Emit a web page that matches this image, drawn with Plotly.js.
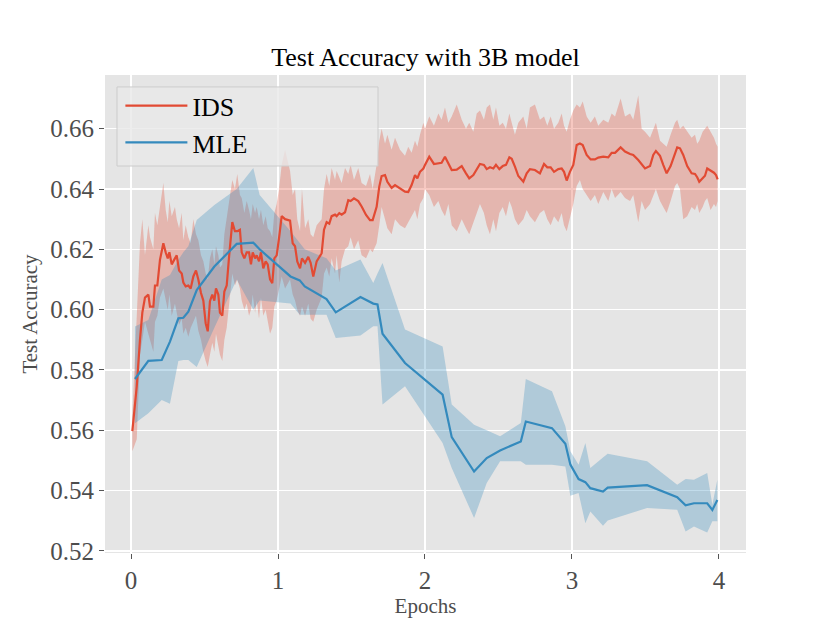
<!DOCTYPE html>
<html>
<head>
<meta charset="utf-8">
<script src="https://cdn.plot.ly/plotly-3.0.1.min.js"></script>
<style>
  body { margin: 0; background: #ffffff; }
  #accPlot { width: 830px; height: 623px; }
</style>
</head>
<body>
<div id="accPlot"></div>
<script>
// IDS run: epoch, mean accuracy and the shaded band
var idsX = [0.009,0.039,0.061,0.077,0.095,0.118,0.129,0.152,0.163,0.179,0.197,0.220,0.236,0.250,0.261,0.277,0.299,0.311,0.327,0.345,
  0.356,0.372,0.390,0.406,0.424,0.442,0.458,0.476,0.492,0.508,0.522,0.537,0.553,0.567,0.578,0.594,0.605,0.621,0.635,0.651,
  0.667,0.689,0.707,0.723,0.741,0.753,0.771,0.787,0.803,0.816,0.828,0.844,0.855,0.871,0.884,0.900,0.916,0.930,0.946,0.961,
  0.975,0.991,1.007,1.025,1.048,1.082,1.100,1.116,1.131,1.150,1.163,1.184,1.206,1.222,1.240,1.263,1.297,1.313,1.331,1.349,
  1.365,1.388,1.399,1.417,1.433,1.456,1.478,1.494,1.517,1.546,1.569,1.599,1.626,1.644,1.671,1.689,1.705,1.728,1.744,1.773,
  1.796,1.830,1.864,1.886,1.909,1.932,1.948,1.966,1.989,2.000,2.029,2.061,2.091,2.113,2.136,2.159,2.182,2.216,2.250,2.279,
  2.301,2.329,2.352,2.374,2.401,2.420,2.442,2.465,2.483,2.506,2.529,2.551,2.574,2.590,2.612,2.635,2.669,2.692,2.714,2.748,
  2.782,2.810,2.832,2.855,2.878,2.907,2.930,2.946,2.964,2.986,3.009,3.032,3.054,3.073,3.100,3.127,3.156,3.179,3.213,3.247,
  3.270,3.293,3.331,3.361,3.395,3.417,3.451,3.474,3.497,3.531,3.553,3.571,3.599,3.621,3.644,3.671,3.701,3.716,3.735,3.757,
  3.784,3.814,3.837,3.852,3.866,3.889,3.905,3.920,3.943,3.966,3.980,3.991];
var idsMean = [0.5597,0.5745,0.590,0.599,0.604,0.605,0.601,0.601,0.608,0.608,0.6165,0.622,0.619,0.617,0.619,0.615,0.617,0.618,0.613,0.612,
  0.609,0.6077,0.608,0.607,0.611,0.613,0.610,0.6055,0.603,0.5955,0.5928,0.6028,0.605,0.603,0.607,0.605,0.599,0.598,0.606,0.608,
  0.6175,0.629,0.626,0.626,0.6265,0.619,0.617,0.619,0.619,0.615,0.619,0.617,0.618,0.616,0.619,0.6137,0.616,0.615,0.610,0.6088,
  0.617,0.618,0.6237,0.631,0.630,0.6295,0.622,0.621,0.616,0.6137,0.617,0.6155,0.6175,0.6155,0.611,0.616,0.6187,0.6265,0.629,0.6285,
  0.631,0.6315,0.631,0.632,0.6315,0.6323,0.6363,0.636,0.6369,0.636,0.6342,0.6314,0.6297,0.6297,0.6341,0.6408,0.6443,0.6446,0.6424,0.6404,
  0.6413,0.6402,0.6391,0.639,0.6413,0.6446,0.6435,0.6457,0.6468,0.648,0.6507,0.6483,0.6485,0.6487,0.6507,0.6487,0.6463,0.6464,0.6476,0.6452,
  0.6435,0.6446,0.6463,0.6483,0.648,0.6466,0.6472,0.6468,0.648,0.6466,0.6476,0.648,0.6505,0.650,0.6474,0.6443,0.6424,0.6452,0.6466,0.6463,
  0.6452,0.6483,0.6472,0.6472,0.6457,0.6466,0.6468,0.6457,0.6428,0.6457,0.648,0.6546,0.6551,0.6546,0.6513,0.6498,0.6498,0.6504,0.6507,0.6505,
  0.652,0.652,0.6538,0.6524,0.6516,0.6513,0.6496,0.6483,0.6468,0.6476,0.6513,0.6526,0.651,0.648,0.6452,0.6476,0.6518,0.6538,0.6535,0.6513,
  0.6476,0.6452,0.645,0.6439,0.6424,0.6435,0.6444,0.6468,0.6461,0.6454,0.6446,0.6432];
var idsUpper = [0.565,0.595,0.622,0.630,0.618,0.628,0.624,0.620,0.632,0.628,0.634,0.642,0.633,0.629,0.636,0.631,0.634,0.630,0.627,0.632,
  0.623,0.628,0.624,0.622,0.630,0.625,0.623,0.618,0.616,0.612,0.610,0.617,0.620,0.615,0.621,0.618,0.614,0.615,0.625,0.630,
  0.636,0.643,0.640,0.645,0.638,0.637,0.632,0.636,0.633,0.630,0.635,0.632,0.634,0.630,0.633,0.628,0.631,0.627,0.626,0.624,
  0.632,0.635,0.640,0.648,0.653,0.646,0.638,0.640,0.630,0.626,0.640,0.627,0.630,0.625,0.624,0.628,0.630,0.640,0.645,0.641,
  0.647,0.643,0.646,0.644,0.642,0.647,0.645,0.648,0.643,0.647,0.642,0.641,0.645,0.640,0.648,0.656,0.660,0.655,0.658,0.653,
  0.657,0.653,0.651,0.654,0.652,0.656,0.654,0.658,0.662,0.660,0.664,0.661,0.665,0.663,0.667,0.662,0.664,0.668,0.663,0.660,
  0.662,0.659,0.665,0.666,0.663,0.667,0.668,0.663,0.667,0.661,0.662,0.660,0.665,0.662,0.658,0.662,0.664,0.660,0.667,0.668,
  0.663,0.664,0.661,0.664,0.660,0.662,0.665,0.661,0.659,0.663,0.666,0.668,0.667,0.669,0.664,0.662,0.664,0.661,0.663,0.662,
  0.665,0.664,0.670,0.664,0.665,0.663,0.671,0.660,0.659,0.657,0.660,0.662,0.656,0.655,0.654,0.658,0.662,0.663,0.660,0.661,
  0.659,0.657,0.658,0.655,0.656,0.659,0.660,0.661,0.659,0.657,0.655,0.654];
var idsLower = [0.553,0.557,0.585,0.590,0.596,0.592,0.590,0.586,0.596,0.598,0.604,0.607,0.603,0.600,0.605,0.598,0.602,0.599,0.595,0.597,
  0.592,0.594,0.591,0.594,0.596,0.598,0.593,0.590,0.586,0.583,0.581,0.585,0.589,0.586,0.592,0.588,0.585,0.583,0.590,0.594,
  0.602,0.612,0.608,0.610,0.607,0.603,0.600,0.602,0.598,0.600,0.605,0.599,0.603,0.597,0.604,0.598,0.600,0.596,0.592,0.594,
  0.601,0.603,0.606,0.611,0.607,0.610,0.605,0.603,0.600,0.598,0.601,0.598,0.602,0.597,0.596,0.600,0.604,0.612,0.614,0.611,
  0.617,0.612,0.618,0.609,0.616,0.620,0.621,0.624,0.620,0.623,0.618,0.617,0.620,0.619,0.622,0.628,0.634,0.630,0.627,0.625,
  0.630,0.628,0.627,0.629,0.631,0.633,0.630,0.635,0.637,0.640,0.638,0.634,0.636,0.633,0.631,0.635,0.628,0.626,0.630,0.627,
  0.625,0.629,0.632,0.635,0.632,0.628,0.625,0.630,0.626,0.632,0.634,0.631,0.636,0.634,0.630,0.628,0.630,0.633,0.631,0.629,
  0.632,0.633,0.630,0.628,0.631,0.629,0.632,0.628,0.626,0.630,0.635,0.641,0.643,0.640,0.638,0.636,0.638,0.635,0.639,0.636,
  0.640,0.637,0.639,0.637,0.636,0.638,0.629,0.636,0.633,0.635,0.638,0.640,0.636,0.634,0.632,0.636,0.641,0.642,0.640,0.630,
  0.631,0.634,0.633,0.635,0.632,0.634,0.636,0.637,0.633,0.635,0.634,0.636];

// MLE run
var mleX = [0.027,0.118,0.209,0.265,0.322,0.356,0.390,0.447,0.567,0.719,0.832,0.875,1.085,1.148,1.182,1.330,1.393,1.561,1.648,1.677,
  1.711,1.864,2.120,2.182,2.334,2.420,2.511,2.652,2.686,2.864,2.955,2.989,3.045,3.091,3.125,3.211,3.243,3.511,3.716,3.773,
  3.830,3.920,3.955,3.989];
var mleMean = [0.577,0.583,0.5833,0.5894,0.5971,0.5973,0.5993,0.6065,0.6143,0.6218,0.6222,0.620,0.611,0.6097,0.6077,0.6035,0.5991,0.6042,0.602,0.6017,
  0.592,0.5823,0.5718,0.5577,0.5463,0.5508,0.5533,0.5563,0.5629,0.5607,0.5555,0.5486,0.5438,0.5428,0.5408,0.5397,0.541,0.5418,0.5378,0.5351,
  0.5358,0.5358,0.5336,0.5369];
var mleUpper = [0.5944,0.5966,0.610,0.6115,0.6165,0.619,0.621,0.6297,0.6347,0.640,0.647,0.638,0.626,0.622,0.620,0.617,0.613,0.6166,0.6088,0.612,
  0.6155,0.5934,0.5878,0.5685,0.5618,0.560,0.558,0.5624,0.577,0.5729,0.5613,0.553,0.5486,0.5558,0.5475,0.551,0.5522,0.5497,0.5419,0.5438,
  0.5436,0.5458,0.5353,0.5436];
var mleLower = [0.5623,0.5656,0.570,0.5688,0.583,0.5833,0.5833,0.581,0.594,0.610,0.600,0.603,0.602,0.5983,0.5983,0.5983,0.5906,0.5914,0.5945,0.5945,
  0.5685,0.5746,0.5558,0.5475,0.5309,0.5425,0.5497,0.5497,0.5486,0.5486,0.548,0.5383,0.5392,0.5292,0.5331,0.5283,0.5301,0.5342,0.5336,0.5264,
  0.5281,0.5261,0.5298,0.5298];

var xTicks = [0, 1, 2, 3, 4];
var yTicks = [0.52, 0.54, 0.56, 0.58, 0.60, 0.62, 0.64, 0.66];

var serif = 'Liberation Serif, Times New Roman, serif';

// band polygon: upper edge forward, lower edge back
function band(x, up, lo, color) {
  return {
    x: x.concat(x.slice().reverse()),
    y: up.concat(lo.slice().reverse()),
    fill: 'toself', fillcolor: color,
    line: {width: 0}, mode: 'lines',
    showlegend: false, hoverinfo: 'skip'
  };
}

var idsBand = band(idsX, idsUpper, idsLower, 'rgba(226,74,51,0.3)');
var mleBand = band(mleX, mleUpper, mleLower, 'rgba(52,138,189,0.3)');
var idsLine = {x: idsX, y: idsMean, mode: 'lines', name: 'IDS',
  line: {color: '#E24A33', width: 2.2}};
var mleLine = {x: mleX, y: mleMean, mode: 'lines', name: 'MLE',
  line: {color: '#348ABD', width: 2.2}};

var data = [idsBand, mleBand, idsLine, mleLine];

var layout = {
  width: 830, height: 623,
  margin: {l: 105, r: 84, t: 75, b: 70},
  paper_bgcolor: '#ffffff',
  plot_bgcolor: '#E5E5E5',
  font: {family: serif, color: '#4D4D4D'},
  title: {
    text: 'Test Accuracy with 3B model',
    font: {family: serif, size: 26, color: '#000000'},
    x: 0.5, xref: 'paper', y: 1 - 57 / 623, yref: 'container', yanchor: 'middle'
  },
  xaxis: {
    range: [-0.177, 4.184],
    tickvals: xTicks, ticktext: xTicks.map(String),
    ticks: 'outside', ticklen: 5, tickcolor: '#555555',
    tickfont: {family: serif, size: 25, color: '#4D4D4D'},
    gridcolor: '#ffffff', gridwidth: 1.5, zeroline: false, showline: false,
    title: {text: 'Epochs', font: {family: serif, size: 21, color: '#4D4D4D'}, standoff: 4}
  },
  yaxis: {
    range: [0.5193, 0.6778],
    tickvals: yTicks, ticktext: yTicks.map(function (v) { return v.toFixed(2); }),
    ticks: 'outside', ticklen: 5, tickcolor: '#555555',
    tickfont: {family: serif, size: 25, color: '#4D4D4D'},
    gridcolor: '#ffffff', gridwidth: 1.5, zeroline: false, showline: false,
    title: {text: 'Test Accuracy', font: {family: serif, size: 21, color: '#4D4D4D'}, standoff: 6}
  },
  // legend frame drawn as a shape so it can be as wide as the original
  shapes: [{
    type: 'rect', xref: 'paper', yref: 'paper', layer: 'above',
    x0: 0.0187, x1: 0.4259, y0: 0.8096, y1: 0.975,
    fillcolor: 'rgba(232,232,232,0.8)',
    line: {color: '#CCCCCC', width: 1}
  }],
  showlegend: true,
  legend: {
    x: 0.024, y: 0.985, xanchor: 'left', yanchor: 'top',
    bgcolor: 'rgba(0,0,0,0)', borderwidth: 0,
    font: {family: serif, size: 26, color: '#000000'},
    itemwidth: 62, tracegroupgap: 8
  }
};

Plotly.newPlot('accPlot', data, layout, {displayModeBar: false, staticPlot: true});
</script>
</body>
</html>
